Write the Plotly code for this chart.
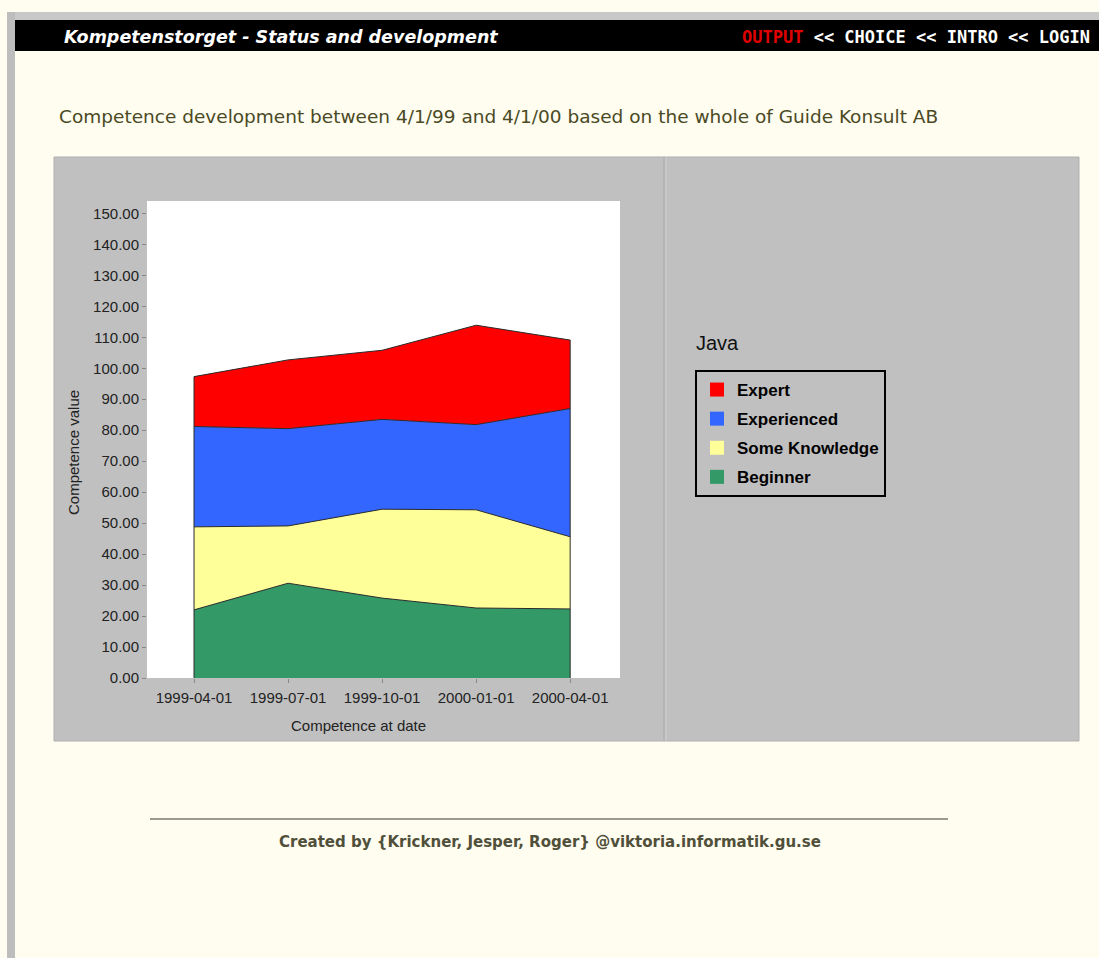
import plotly.graph_objects as go

W, H = 1099, 958

dates = ["1999-04-01", "1999-07-01", "1999-10-01", "2000-01-01", "2000-04-01"]
beginner = [22.0, 30.6, 25.8, 22.6, 22.3]
some_knowledge = [26.8, 18.5, 28.7, 31.7, 23.3]
experienced = [32.4, 31.4, 29.0, 27.5, 41.4]
expert = [16.1, 22.2, 22.3, 32.1, 22.1]

series = [
    ("Beginner", beginner, "#339966"),
    ("Some Knowledge", some_knowledge, "#ffff99"),
    ("Experienced", experienced, "#3366ff"),
    ("Expert", expert, "#ff0000"),
]

page_title = "Competence development between 4/1/99 and 4/1/00 based on the whole of Guide Konsult AB"
header_left = "Kompetenstorget - Status and development"
footer = "Created by {Krickner, Jesper, Roger} @viktoria.informatik.gu.se"
legend_title = "Java"


def px(x):
    return x / W


def py(y):
    return 1 - y / H


fig = go.Figure()

for name, vals, col in series:
    fig.add_trace(go.Scatter(
        x=dates, y=vals, name=name, stackgroup="one", mode="lines",
        line=dict(color="#2a2a2a", width=1), fillcolor=col, showlegend=False,
        hoverinfo="skip",
    ))

totals = [sum(v) for v in zip(*[s[1] for s in series])]
for i in (0, len(dates) - 1):
    fig.add_trace(go.Scatter(
        x=[dates[i], dates[i]], y=[0, totals[i]], mode="lines",
        line=dict(color="#2a2a2a", width=1), showlegend=False, hoverinfo="skip",
    ))

# legend entries (square swatches), Expert on top
for name, vals, col in reversed(series):
    fig.add_trace(go.Scatter(
        x=[None], y=[None], mode="markers", name=name, legendgroup=name,
        marker=dict(symbol="square", size=14, color=col, line=dict(width=0)),
        showlegend=True,
    ))

shapes = [
    dict(type="rect", xref="paper", yref="paper", x0=px(7), x1=px(1099), y0=py(20), y1=py(12),
         fillcolor="#c8c8c8", line=dict(width=0), layer="below"),
    dict(type="rect", xref="paper", yref="paper", x0=px(7), x1=px(15), y0=0, y1=py(12),
         fillcolor="#bdbdbd", line=dict(width=0), layer="below"),
    dict(type="rect", xref="paper", yref="paper", x0=px(15), x1=px(1099), y0=0, y1=py(20),
         fillcolor="#fffcf0", line=dict(width=0), layer="below"),
    dict(type="rect", xref="paper", yref="paper", x0=px(15), x1=px(1099), y0=py(51), y1=py(20),
         fillcolor="#000000", line=dict(width=0), layer="below"),
    dict(type="rect", xref="paper", yref="paper", x0=px(54), x1=px(1079), y0=py(741), y1=py(157),
         fillcolor="#c0c0c0", line=dict(color="#b0b0b0", width=1), layer="below"),
    dict(type="line", xref="paper", yref="paper", x0=px(664), x1=px(664), y0=py(741), y1=py(157),
         line=dict(color="#a9a9a9", width=1), layer="below"),
    dict(type="line", xref="paper", yref="paper", x0=px(666), x1=px(666), y0=py(741), y1=py(157),
         line=dict(color="#d0d0d0", width=1), layer="below"),
    dict(type="rect", xref="paper", yref="paper", x0=px(147), x1=px(620), y0=py(678), y1=py(201),
         fillcolor="#ffffff", line=dict(width=0), layer="below"),
    dict(type="line", xref="paper", yref="paper", x0=px(150), x1=px(948), y0=py(819), y1=py(819),
         line=dict(color="#9a9a90", width=2), layer="below"),
]

annotations = [
    dict(text="<i><b>" + header_left + "</b></i>", xref="paper", yref="paper",
         x=px(62), y=py(37), xanchor="left", yanchor="middle", showarrow=False,
         font=dict(family="DejaVu Sans", size=17.5, color="#ffffff")),
    dict(text="<span style='color:#e00000'>OUTPUT</span> &lt;&lt; CHOICE &lt;&lt; INTRO &lt;&lt; LOGIN",
         xref="paper", yref="paper", x=px(740), y=py(37), xanchor="left", yanchor="middle",
         showarrow=False,
         font=dict(family="DejaVu Sans Mono", size=17, color="#ffffff", weight="bold")),
    dict(text=page_title, xref="paper", yref="paper", x=px(57), y=py(116),
         xanchor="left", yanchor="middle", showarrow=False,
         font=dict(family="DejaVu Sans", size=18.5, color="#4a4a24")),
    dict(text=footer, xref="paper", yref="paper", x=px(550), y=py(842),
         xanchor="center", yanchor="middle", showarrow=False,
         font=dict(family="DejaVu Sans", size=15, color="#50503a", weight="bold")),
    dict(text=legend_title, xref="paper", yref="paper", x=px(694), y=py(343),
         xanchor="left", yanchor="middle", showarrow=False,
         font=dict(family="Liberation Sans, Arial", size=20, color="#111111")),
    dict(text="Competence at date", xref="paper", yref="paper", x=px(358), y=py(725),
         xanchor="center", yanchor="middle", showarrow=False,
         font=dict(family="Liberation Sans, Arial", size=15, color="#222222")),
    dict(text="Competence value", xref="paper", yref="paper", x=px(73), y=py(453),
         xanchor="center", yanchor="middle", showarrow=False, textangle=-90,
         font=dict(family="Liberation Sans, Arial", size=15, color="#222222")),
]

fig.update_layout(
    width=W, height=H,
    margin=dict(l=0, r=0, t=0, b=0, pad=0, autoexpand=False),
    paper_bgcolor="#fffcf0",
    plot_bgcolor="rgba(0,0,0,0)",
    shapes=shapes,
    annotations=annotations,
    showlegend=True,
    legend=dict(
        x=px(695), y=py(370), xanchor="left", yanchor="top",
        bgcolor="#c0c0c0", bordercolor="#000000", borderwidth=2,
        font=dict(family="Liberation Sans, Arial", size=17, color="#000000", weight="bold"),
        tracegroupgap=4, itemclick=False, itemdoubleclick=False,
    ),
    xaxis=dict(
        domain=[px(147), px(620)], type="category", range=[-0.5, 4.53],
        showgrid=False, zeroline=False, showline=False, automargin=False,
        ticks="outside", ticklen=4, tickcolor="#888888", ticklabelstandoff=2,
        tickfont=dict(family="Liberation Sans, Arial", size=15, color="#222222"),
        fixedrange=True,
    ),
    yaxis=dict(
        domain=[py(678), py(201)], range=[0, 154],
        dtick=10, tickformat=".2f", automargin=False,
        showgrid=False, zeroline=False, showline=False,
        ticks="outside", ticklen=4, tickcolor="#888888",
        tickfont=dict(family="Liberation Sans, Arial", size=15, color="#222222"),
        fixedrange=True,
    ),
)

fig.write_html(
    "out.html",
    config={"displayModeBar": False},
    post_script=(
        "document.body.style.margin='0';"
        "document.body.style.overflow='hidden';"
        "document.documentElement.style.overflow='hidden';"
    ),
)
